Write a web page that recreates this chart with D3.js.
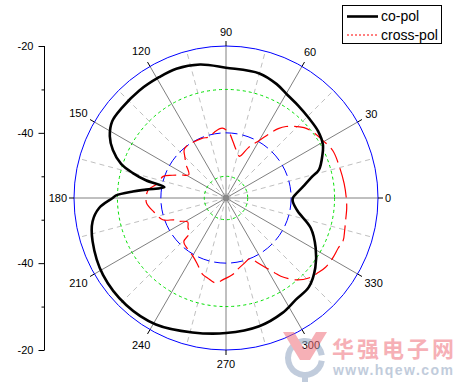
<!DOCTYPE html>
<html>
<head>
<meta charset="utf-8">
<script src="https://cdn.jsdelivr.net/npm/d3@7"></script>
<style>
  body { margin: 0; background: #fff; }
  svg { display: block; font-family: "Liberation Sans", Arial, sans-serif; }
</style>
</head>
<body>
<svg id="chart" width="460" height="386"></svg>
<script>
// co-pol pattern (angle in degrees, level in dB)
const coAngles = [0, 8, 14, 17, 24, 29, 36, 44, 52, 59, 66, 75, 90, 101, 111, 119, 129, 139, 146, 152, 157, 162, 165, 167.5, 170, 174, 176, 178.6, 180, 184.5, 190, 198, 212, 227, 241, 256, 270, 284.5, 296, 304.5, 313, 322, 331, 340.5, 349.5, 357];
const coValues = [-39.6, -37.2, -34.5, -32.6, -30.7, -29.5, -28.8, -28.5, -28.0, -27.4, -26.3, -25.3, -25.0, -23.7, -23.1, -23.2, -23.2, -23.3, -23.4, -24.7, -26.7, -29.6, -32.8, -36.1, -40.6, -36.5, -33.5, -29.7, -28.9, -25.7, -23.8, -22.7, -21.6, -21.3, -21.7, -23.1, -23.9, -24.5, -25.5, -26.6, -27.0, -28.9, -31.4, -34.3, -38.2, -39.6];

// cross-pol pattern
const xAngles = [0, 7, 15, 24, 31, 36, 42, 50, 53, 60, 66, 72, 78, 83, 87, 93, 100, 105, 112, 120, 127, 131, 135, 140, 148, 153, 157, 161, 168, 174, 180, 184, 191, 199, 203, 206, 212, 218, 224, 226, 233, 241, 247, 253, 257, 263, 268, 275, 279, 285, 292, 296, 303, 305, 311, 316, 321, 325, 331, 336, 340, 345, 350, 355];
const xValues = [-27.3, -27.6, -27.9, -28.1, -29.1, -29.7, -30.8, -33.5, -35.0, -39.7, -42.3, -44.9, -43.7, -41.9, -40.1, -38.9, -39.6, -40.4, -40.2, -40.1, -40.0, -40.3, -41.6, -43.0, -44.9, -43.3, -41.6, -39.7, -38.9, -37.0, -36.6, -36.7, -38.1, -39.6, -42.1, -42.8, -44.6, -43.9, -43.3, -41.0, -40.3, -39.5, -38.3, -36.6, -36.1, -35.3, -36.2, -37.3, -38.3, -39.3, -40.0, -38.4, -34.5, -33.0, -30.0, -28.5, -27.7, -27.1, -26.8, -26.7, -26.3, -26.7, -27.0, -27.1];

const angleTicks = [0, 30, 60, 90, 120, 150, 180, 210, 240, 270, 300, 330];
const minorAngles = [15, 45, 75, 105, 135, 165, 195, 225, 255, 285, 315, 345];
const radialDomain = [-55, -20];
const radialLabels = [-20, -40];
const radialMinor = [-30, -50];
const rings = [-20, -30, -40, -50];
const seriesNames = ['co-pol', 'cross-pol'];

const svg = d3.select('#chart');
const cx = 226, cy = 198, R = 152;

const r = d3.scaleLinear().domain(radialDomain).range([0, R]);
const rad = a => (90 - a) * Math.PI / 180;
const px = (a, rr) => cx + rr * Math.cos(a * Math.PI / 180);
const py = (a, rr) => cy - rr * Math.sin(a * Math.PI / 180);

const plot = svg.append('g').attr('transform', `translate(${cx},${cy})`);

// spokes
plot.selectAll('.minorSpoke').data(minorAngles)
  .join('line')
  .attr('x1', 0).attr('y1', 0)
  .attr('x2', d => R * Math.cos(d * Math.PI / 180))
  .attr('y2', d => -R * Math.sin(d * Math.PI / 180))
  .attr('stroke', '#c0c0c0')
  .attr('stroke-dasharray', '5,4');

plot.selectAll('.majorSpoke').data(angleTicks)
  .join('line')
  .attr('x1', 0).attr('y1', 0)
  .attr('x2', d => R * Math.cos(d * Math.PI / 180))
  .attr('y2', d => -R * Math.sin(d * Math.PI / 180))
  .attr('stroke', '#808080');

// rings
const ringStyle = {
  '-20': { c: '#0000ff', dash: null },
  '-30': { c: '#00e000', dash: '3,3' },
  '-40': { c: '#0000ff', dash: '12,5' },
  '-50': { c: '#00e000', dash: '3,3' }
};
plot.selectAll('.ring').data(rings)
  .join('circle')
  .attr('r', d => r(d))
  .attr('fill', 'none')
  .attr('stroke', d => ringStyle[d].c)
  .attr('stroke-dasharray', d => ringStyle[d].dash);

// outer angular ticks
plot.selectAll('.aTick').data(angleTicks)
  .join('line')
  .attr('x1', d => R * Math.cos(d * Math.PI / 180))
  .attr('y1', d => -R * Math.sin(d * Math.PI / 180))
  .attr('x2', d => (R + 5) * Math.cos(d * Math.PI / 180))
  .attr('y2', d => -(R + 5) * Math.sin(d * Math.PI / 180))
  .attr('stroke', '#000');

plot.append('circle').attr('r', 3).attr('fill', '#888');

// data lines
const radial = d3.lineRadial()
  .angle(d => rad(d[0]))
  .radius(d => r(d[1]))
  .curve(d3.curveCatmullRomClosed.alpha(0.5));

const coData = coAngles.map((a, i) => [a, coValues[i]]);
const xData = xAngles.map((a, i) => [a, xValues[i]]);

plot.append('path')
  .attr('d', radial(xData))
  .attr('fill', 'none')
  .attr('stroke', '#ff0000')
  .attr('stroke-width', 1.2)
  .attr('stroke-dasharray', '16,6');

plot.append('path')
  .attr('d', radial(coData))
  .attr('fill', 'none')
  .attr('stroke', '#000')
  .attr('stroke-width', 2.6)
  .attr('stroke-linejoin', 'round');

// angle labels
const aLab = svg.selectAll('.aLab').data(angleTicks)
  .join('text')
  .attr('class', 'aLab')
  .attr('font-size', 11)
  .attr('text-anchor', 'middle')
  .attr('dy', '0.35em')
  .text(d => d);
aLab.each(function (d) {
  const w = this.getComputedTextLength();
  const c = Math.abs(Math.cos(d * Math.PI / 180)), s = Math.abs(Math.sin(d * Math.PI / 180));
  const rr = R + 7 + c * w / 2 + s * 7;
  d3.select(this).attr('x', px(d, rr)).attr('y', py(d, rr));
});

// left radial axis (mirrored)
const axX = 44.5;
const yTop = d3.scaleLinear().domain(radialDomain).range([cy, cy - R]);
const yBot = d3.scaleLinear().domain(radialDomain).range([cy, cy + R]);

const axis = svg.append('g');
axis.append('line')
  .attr('x1', axX).attr('x2', axX)
  .attr('y1', yTop(-20)).attr('y2', yBot(-20))
  .attr('stroke', '#000');

[yTop, yBot].forEach(sc => {
  axis.append('g')
    .attr('transform', `translate(${axX},0)`)
    .call(d3.axisLeft(sc).tickValues(radialLabels).tickSize(6).tickSizeOuter(0).tickPadding(5).tickFormat(d => String(d)))
    .call(g => g.select('.domain').remove())
    .call(g => g.selectAll('text').attr('font-size', 11).attr('font-family', null).attr('fill', '#000'));
  axis.append('g')
    .attr('transform', `translate(${axX},0)`)
    .call(d3.axisLeft(sc).tickValues(radialMinor).tickSize(3).tickFormat(''))
    .call(g => g.select('.domain').remove());
});

// legend
const leg = svg.append('g');
leg.append('rect')
  .attr('x', 342.5).attr('y', 5.5).attr('width', 99).attr('height', 38)
  .attr('fill', '#fff').attr('stroke', '#000');
const legY = [16.5, 35];
leg.selectAll('.legLine').data(seriesNames)
  .join('line')
  .attr('x1', 347).attr('x2', 378)
  .attr('y1', (d, i) => legY[i]).attr('y2', (d, i) => legY[i])
  .attr('stroke', (d, i) => i ? '#ff0000' : '#000')
  .attr('stroke-width', (d, i) => i ? 1 : 2.6)
  .attr('stroke-dasharray', (d, i) => i ? '2,2' : null);
leg.selectAll('.legText').data(seriesNames)
  .join('text')
  .attr('x', 381)
  .attr('y', (d, i) => legY[i])
  .attr('dy', '0.35em')
  .attr('font-size', 14)
  .text(d => d);

// watermark
const wm = svg.append('g').attr('opacity', 0.55);
wm.append('path')
  .attr('d', d3.arc()({ innerRadius: 14, outerRadius: 20, startAngle: 0.55 * Math.PI, endAngle: 2.45 * Math.PI }))
  .attr('transform', 'translate(305,358)')
  .attr('fill', '#8fa3c0');
wm.append('rect').attr('x', 302).attr('y', 372).attr('width', 6).attr('height', 10).attr('fill', '#8fa3c0');
wm.append('path')
  .attr('d', 'M283,332 L294,332 L305,350 L316,332 L327,332 L310,360 L300,360 Z')
  .attr('fill', '#f0707c');
wm.append('text')
  .attr('x', 332).attr('y', 357)
  .attr('font-size', 22).attr('font-weight', 'bold')
  .attr('font-family', '"Noto Sans CJK SC", sans-serif')
  .attr('fill', '#f0707c')
  .attr('textLength', 122)
  .text('华强电子网');
wm.append('text')
  .attr('x', 333).attr('y', 375)
  .attr('font-size', 14).attr('font-weight', 'bold')
  .attr('fill', '#8fa3c0')
  .attr('textLength', 120)
  .text('www.hqew.com');
</script>
</body>
</html>
